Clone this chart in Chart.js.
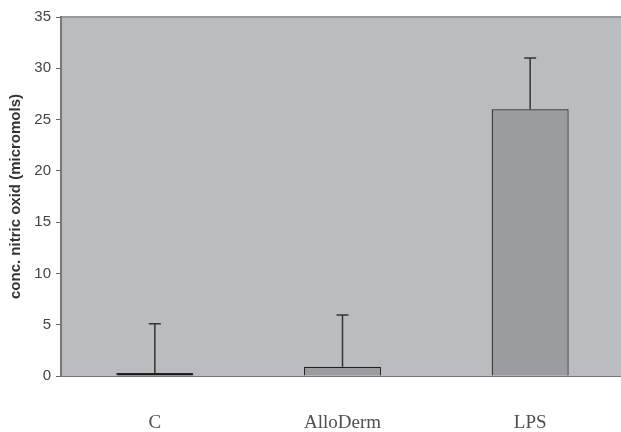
<!DOCTYPE html>
<html>
<head>
<meta charset="utf-8">
<script src="https://cdn.jsdelivr.net/npm/chart.js@4/dist/chart.umd.min.js"></script>
<style>
html,body{margin:0;padding:0;background:#fff;overflow:hidden;width:621px;height:432px}
#wrap{width:624px;height:432px}
</style>
</head>
<body>
<div id="wrap"><canvas id="chart" width="624" height="432"></canvas></div>
<script>

const categories=["C","AlloDerm","LPS"]
const means=[0.3,0.9,26.0]
const errors=[4.8,5.05,5.0]
const yTicks=[0,5,10,15,20,25,30,35]

/* plot background + error bars */

const plotBg={
id:"plotBg",
beforeDraw(chart){
const {ctx,chartArea:a}=chart
ctx.save()
ctx.fillStyle="#babcbf"
ctx.fillRect(a.left,a.top,a.right-a.left,a.bottom-a.top)
ctx.strokeStyle="#9a9a9a"
ctx.lineWidth=2
ctx.beginPath()
ctx.moveTo(a.left,a.top)
ctx.lineTo(a.right,a.top)
ctx.stroke()
ctx.restore()
}
}

const errorBars={
id:"errorBars",
afterDatasetsDraw(chart){
const ctx=chart.ctx
const y=chart.scales.y
const meta=chart.getDatasetMeta(0)
ctx.save()
ctx.strokeStyle="#333"
ctx.lineWidth=1.5
meta.data.forEach((bar,i)=>{
let top=y.getPixelForValue(means[i]+errors[i])
ctx.beginPath()
ctx.moveTo(bar.x,bar.y)
ctx.lineTo(bar.x,top)
ctx.moveTo(bar.x-6,top)
ctx.lineTo(bar.x+6,top)
ctx.stroke()
})
ctx.restore()
}
}

new Chart(document.getElementById("chart"),{

type:"bar",

data:{
labels:categories,
datasets:[{
data:means,
backgroundColor:["#1a1a1a","#9a9c9f","#9a9c9f"],
borderColor:"#222",
borderWidth:1.2,
barPercentage:0.41,
categoryPercentage:1
}]
},

options:{
responsive:false,
animation:false,
layout:{padding:{top:17,left:0,right:0,bottom:0}},
plugins:{
legend:{display:false},
tooltip:{enabled:false}
},
scales:{
x:{
grid:{display:false},
border:{color:"#777",width:1},
ticks:{
color:"#505050",
padding:28,
font:{family:"Liberation Serif",size:19}
},
afterFit(s){s.height=56}
},
y:{
min:0,
max:35,
afterBuildTicks(s){s.ticks=yTicks.map(v=>({value:v}))},
grid:{drawOnChartArea:false,drawTicks:true,tickLength:5,color:"#666"},
border:{color:"#777",width:2},
ticks:{
color:"#444",
padding:5,
font:{family:"Liberation Sans",size:15}
},
title:{
display:true,
text:"conc. nitric oxid (micromols)",
color:"#333",
font:{family:"Liberation Sans",size:15,weight:"bold"},
padding:{top:7,bottom:0}
},
afterFit(s){s.width=61}
}
}
},

plugins:[plotBg,errorBars]

})

</script>
</body>
</html>
